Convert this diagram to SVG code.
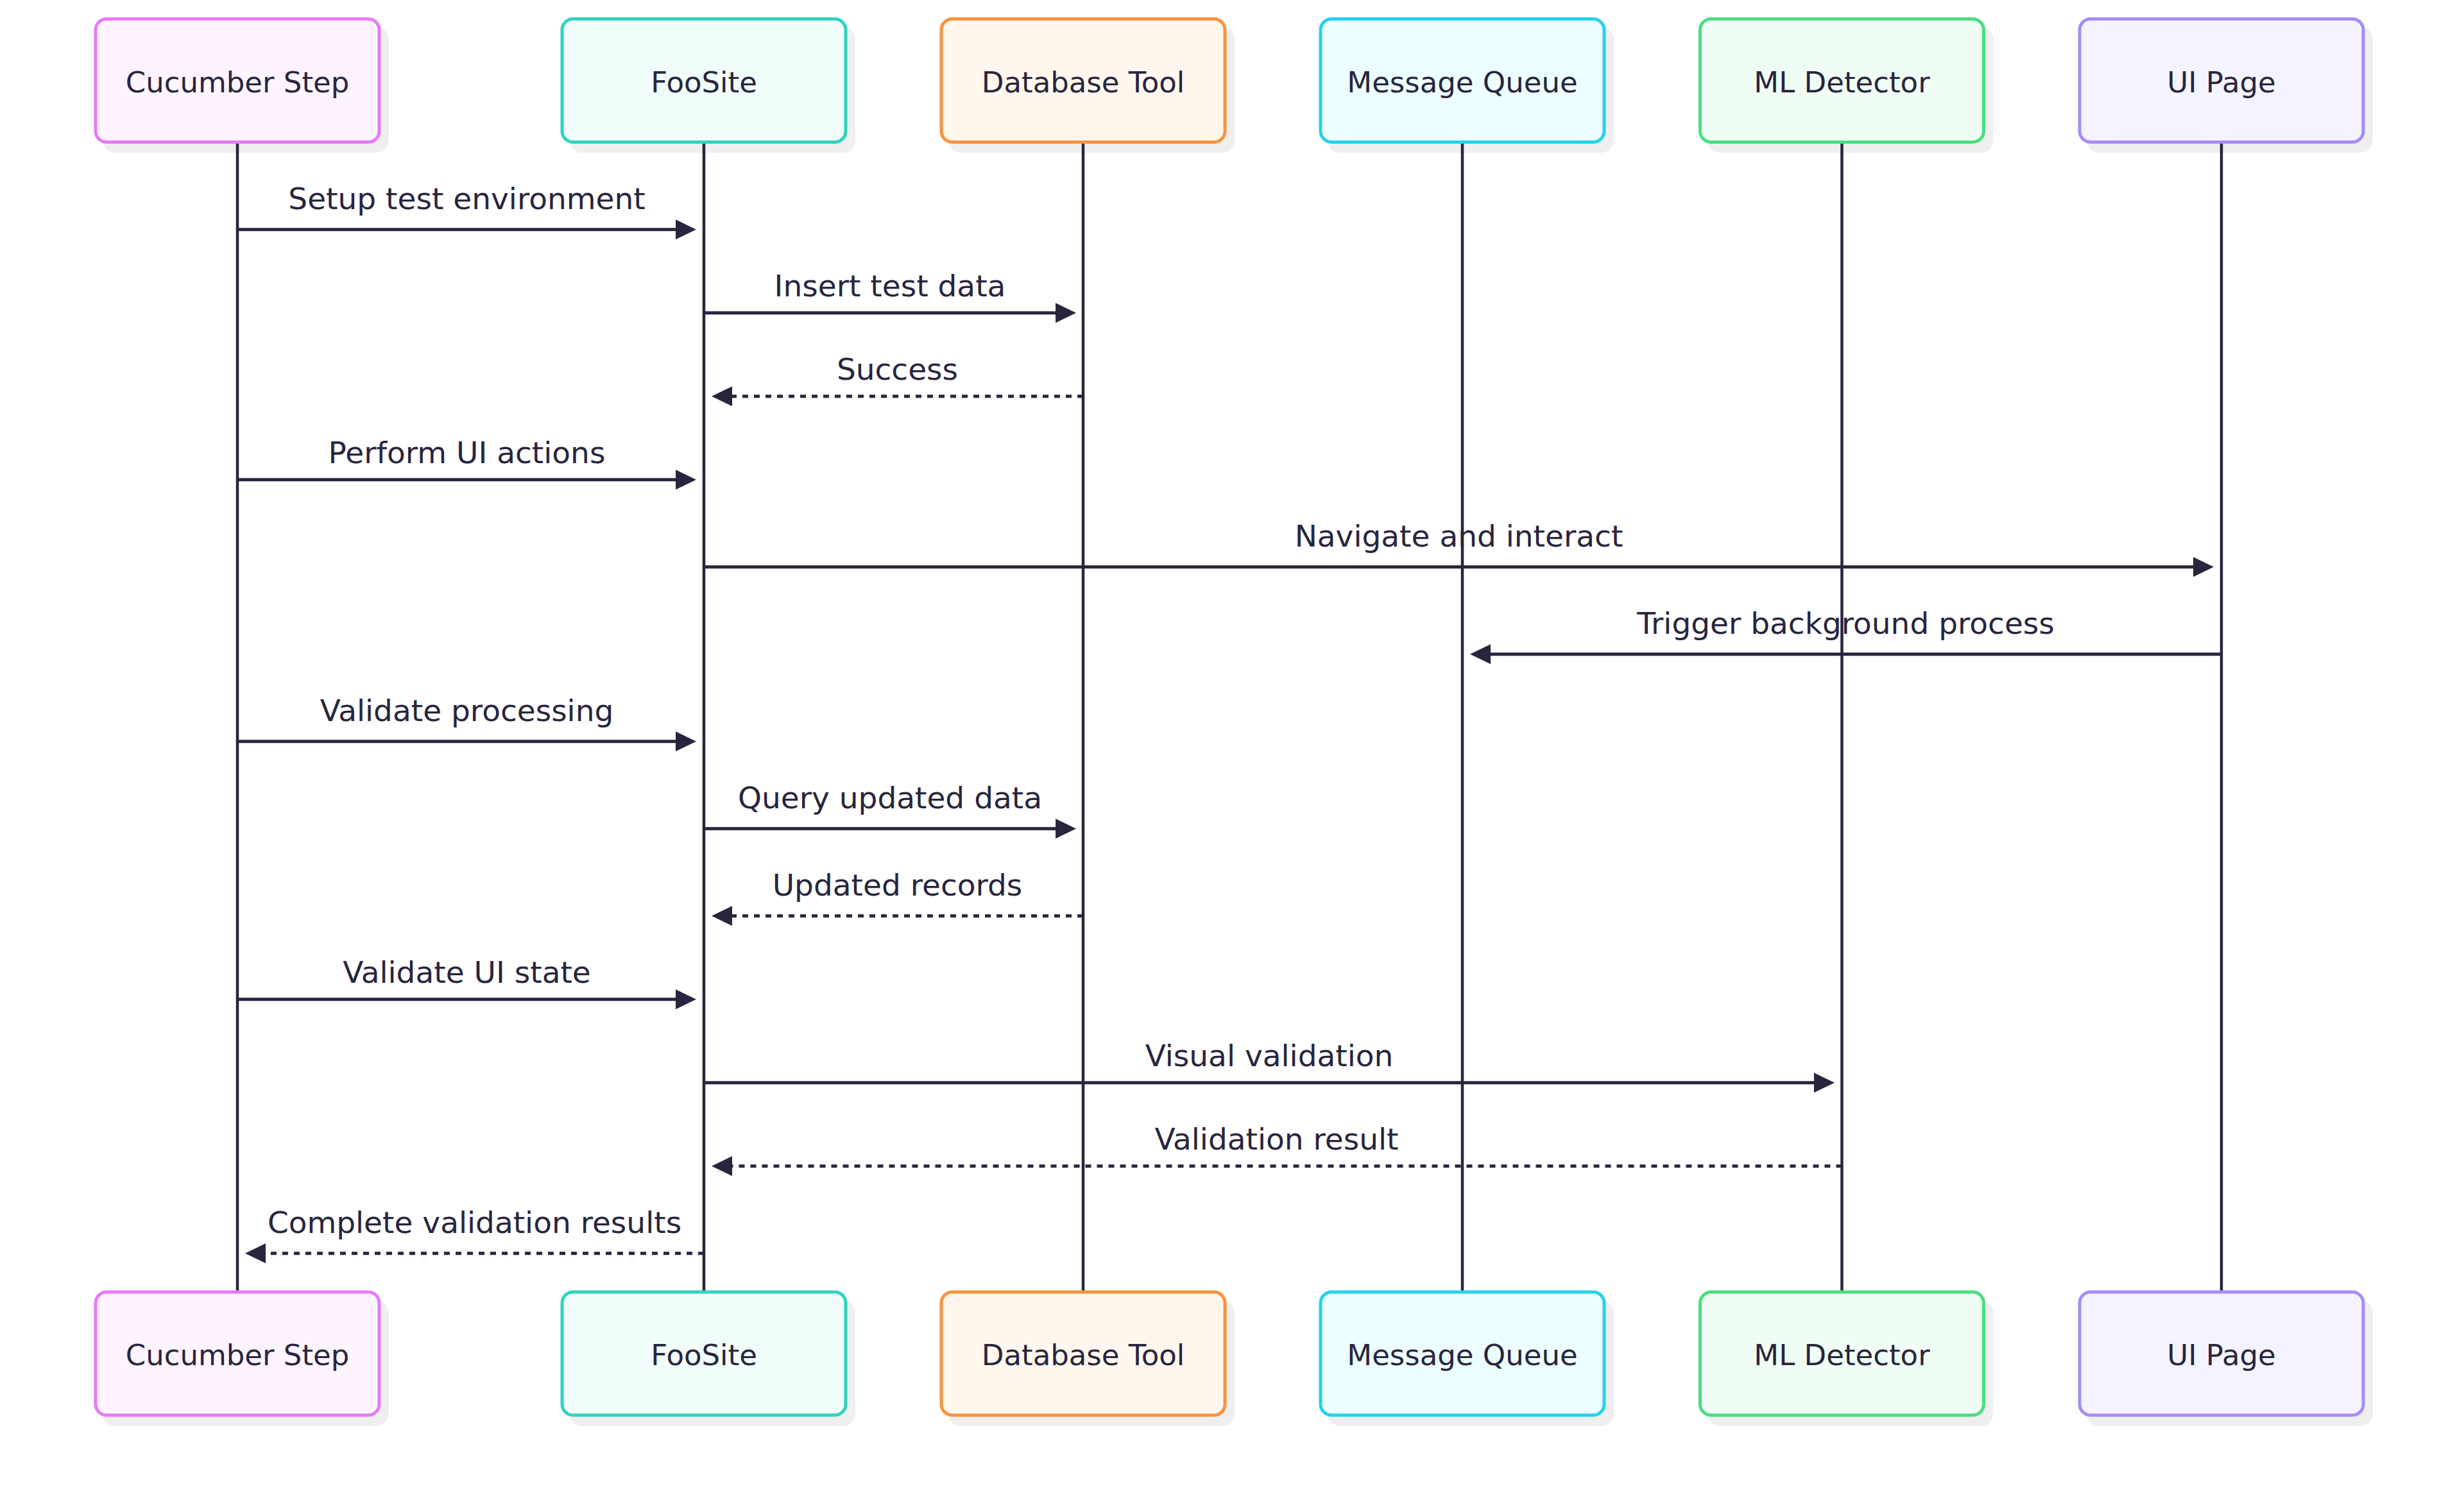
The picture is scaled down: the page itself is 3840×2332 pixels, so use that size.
<svg xmlns="http://www.w3.org/2000/svg" width="3840" height="2332" viewBox="0 0 3840 2332">
<style>
.bg{fill:#ffffff}
.shadow{fill:#efefef}
.box{stroke-width:5}
.alabel{font-family:"DejaVu Sans","Noto Sans",sans-serif;font-size:45px;fill:#28253d;text-anchor:middle}
.life{stroke:#28253d;stroke-width:4.5}
.msg{stroke:#28253d;stroke-width:5;fill:none}
.dash{stroke-dasharray:9 9}
.mlabel{font-family:"DejaVu Sans","Noto Sans",sans-serif;font-size:47px;fill:#28253d;text-anchor:middle}
.c1{fill:#fdf4ff;stroke:#e879f9}
.c2{fill:#f0fdfa;stroke:#2dd4bf}
.c3{fill:#fff7ed;stroke:#fb923c}
.c4{fill:#ecfeff;stroke:#22d3ee}
.c5{fill:#f0fdf4;stroke:#4ade80}
.c6{fill:#f5f3ff;stroke:#a78bfa}
</style>
<defs>
<marker id="ah" markerUnits="userSpaceOnUse" viewBox="0 0 34 32" markerWidth="34" markerHeight="32" refX="12" refY="15.5" orient="auto">
<path d="M0,0 L32,15.5 L0,31 z" fill="#28253d"/>
</marker>
</defs>
<rect class="bg" x="0" y="0" width="3840" height="2332"/>

<g id="actor-cucumber">
<rect class="shadow" x="160" y="42" width="446" height="196" rx="20"/>
<rect class="box c1" x="149" y="29.5" width="442" height="192" rx="17"/>
<text class="alabel" x="370" y="144">Cucumber Step</text>
<line class="life" x1="370" y1="224" x2="370" y2="2012"/>
<rect class="shadow" x="160" y="2027" width="446" height="196" rx="20"/>
<rect class="box c1" x="149" y="2014" width="442" height="192" rx="17"/>
<text class="alabel" x="370" y="2128">Cucumber Step</text>
</g>

<g id="actor-foosite">
<rect class="shadow" x="887" y="42" width="446" height="196" rx="20"/>
<rect class="box c2" x="876" y="29.5" width="442" height="192" rx="17"/>
<text class="alabel" x="1097" y="144">FooSite</text>
<line class="life" x1="1097" y1="224" x2="1097" y2="2012"/>
<rect class="shadow" x="887" y="2027" width="446" height="196" rx="20"/>
<rect class="box c2" x="876" y="2014" width="442" height="192" rx="17"/>
<text class="alabel" x="1097" y="2128">FooSite</text>
</g>

<g id="actor-database">
<rect class="shadow" x="1478" y="42" width="446" height="196" rx="20"/>
<rect class="box c3" x="1467" y="29.5" width="442" height="192" rx="17"/>
<text class="alabel" x="1688" y="144">Database Tool</text>
<line class="life" x1="1688" y1="224" x2="1688" y2="2012"/>
<rect class="shadow" x="1478" y="2027" width="446" height="196" rx="20"/>
<rect class="box c3" x="1467" y="2014" width="442" height="192" rx="17"/>
<text class="alabel" x="1688" y="2128">Database Tool</text>
</g>

<g id="actor-queue">
<rect class="shadow" x="2069" y="42" width="446" height="196" rx="20"/>
<rect class="box c4" x="2058" y="29.5" width="442" height="192" rx="17"/>
<text class="alabel" x="2279" y="144">Message Queue</text>
<line class="life" x1="2279" y1="224" x2="2279" y2="2012"/>
<rect class="shadow" x="2069" y="2027" width="446" height="196" rx="20"/>
<rect class="box c4" x="2058" y="2014" width="442" height="192" rx="17"/>
<text class="alabel" x="2279" y="2128">Message Queue</text>
</g>

<g id="actor-ml">
<rect class="shadow" x="2660.5" y="42" width="446" height="196" rx="20"/>
<rect class="box c5" x="2649.5" y="29.5" width="442" height="192" rx="17"/>
<text class="alabel" x="2870.5" y="144">ML Detector</text>
<line class="life" x1="2870.5" y1="224" x2="2870.5" y2="2012"/>
<rect class="shadow" x="2660.5" y="2027" width="446" height="196" rx="20"/>
<rect class="box c5" x="2649.5" y="2014" width="442" height="192" rx="17"/>
<text class="alabel" x="2870.5" y="2128">ML Detector</text>
</g>

<g id="actor-uipage">
<rect class="shadow" x="3252" y="42" width="446" height="196" rx="20"/>
<rect class="box c6" x="3241" y="29.5" width="442" height="192" rx="17"/>
<text class="alabel" x="3462" y="144">UI Page</text>
<line class="life" x1="3462" y1="224" x2="3462" y2="2012"/>
<rect class="shadow" x="3252" y="2027" width="446" height="196" rx="20"/>
<rect class="box c6" x="3241" y="2014" width="442" height="192" rx="17"/>
<text class="alabel" x="3462" y="2128">UI Page</text>
</g>

<g id="connectors">
<line class="msg" x1="370" y1="357.7" x2="1065" y2="357.7" marker-end="url(#ah)"/>
<text class="mlabel" x="727.5" y="326">Setup test environment</text>

<line class="msg" x1="1097" y1="487.7" x2="1657" y2="487.7" marker-end="url(#ah)"/>
<text class="mlabel" x="1387" y="461.7">Insert test data</text>

<line class="msg dash" x1="1688" y1="617.7" x2="1129" y2="617.7" marker-end="url(#ah)"/>
<text class="mlabel" x="1398.5" y="591.7">Success</text>

<line class="msg" x1="370" y1="747.7" x2="1065" y2="747.7" marker-end="url(#ah)"/>
<text class="mlabel" x="727.5" y="721.7">Perform UI actions</text>

<line class="msg" x1="1097" y1="883.7" x2="3430" y2="883.7" marker-end="url(#ah)"/>
<text class="mlabel" x="2273.5" y="851.7">Navigate and interact</text>

<line class="msg" x1="3462" y1="1019.7" x2="2311" y2="1019.7" marker-end="url(#ah)"/>
<text class="mlabel" x="2876.5" y="987.7">Trigger background process</text>

<line class="msg" x1="370" y1="1155.7" x2="1065" y2="1155.7" marker-end="url(#ah)"/>
<text class="mlabel" x="727.5" y="1123.7">Validate processing</text>

<line class="msg" x1="1097" y1="1291.7" x2="1657" y2="1291.7" marker-end="url(#ah)"/>
<text class="mlabel" x="1387" y="1259.7">Query updated data</text>

<line class="msg dash" x1="1688" y1="1427.7" x2="1129" y2="1427.7" marker-end="url(#ah)"/>
<text class="mlabel" x="1398.5" y="1395.7">Updated records</text>

<line class="msg" x1="370" y1="1557.7" x2="1065" y2="1557.7" marker-end="url(#ah)"/>
<text class="mlabel" x="727.5" y="1531.7">Validate UI state</text>

<line class="msg" x1="1097" y1="1687.7" x2="2839" y2="1687.7" marker-end="url(#ah)"/>
<text class="mlabel" x="1978" y="1661.7">Visual validation</text>

<line class="msg dash" x1="2870.5" y1="1817.7" x2="1129" y2="1817.7" marker-end="url(#ah)"/>
<text class="mlabel" x="1989.5" y="1791.7">Validation result</text>

<line class="msg dash" x1="1097" y1="1953.7" x2="402" y2="1953.7" marker-end="url(#ah)"/>
<text class="mlabel" x="739.5" y="1921.7">Complete validation results</text>
</g>
</svg>
